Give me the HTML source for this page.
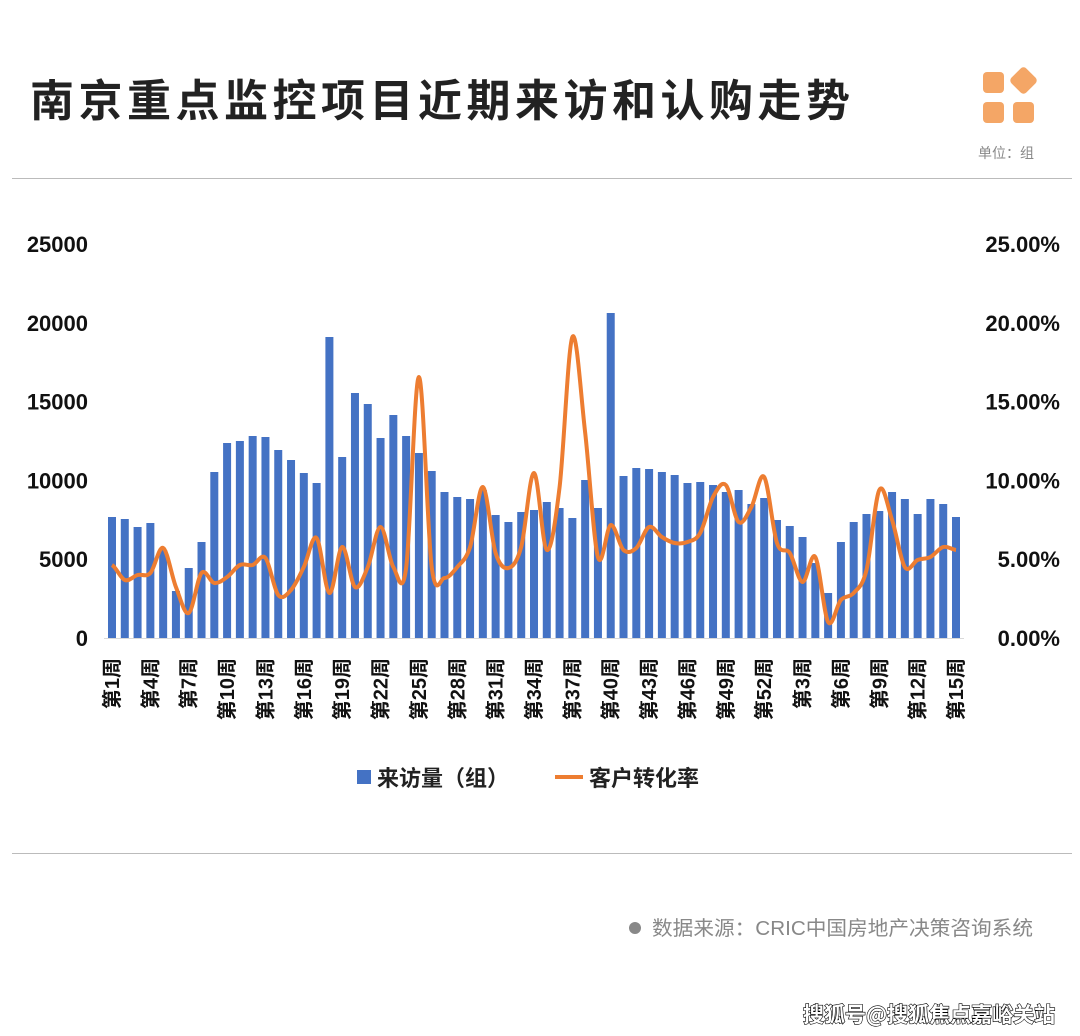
<!DOCTYPE html>
<html><head><meta charset="utf-8">
<style>
html,body{margin:0;padding:0;background:#fff;}
body{width:1080px;height:1036px;overflow:hidden;position:relative;font-family:"Liberation Sans","Noto Sans CJK SC",sans-serif;}
</style></head>
<body>
<svg id="s" width="1080" height="1036" viewBox="0 0 1080 1036" xmlns="http://www.w3.org/2000/svg" style="position:absolute;left:0;top:0">
<text x="30" y="116" font-size="44" font-weight="bold" fill="#222" font-family="Noto Sans CJK SC,sans-serif" letter-spacing="4.5">南京重点监控项目近期来访和认购走势</text>
<rect x="983" y="72" width="21" height="21" rx="4" fill="#F4A666"/>
<rect x="1013" y="70" width="21" height="21" rx="4" fill="#F4A666" transform="rotate(45 1023.5 80.5)"/>
<rect x="983" y="102" width="21" height="21" rx="4" fill="#F4A666"/>
<rect x="1013" y="102" width="21" height="21" rx="4" fill="#F4A666"/>
<text x="978" y="158" font-size="14" fill="#888" font-family="Noto Sans CJK SC,sans-serif">单位：组</text>
<line x1="12" y1="178.5" x2="1072" y2="178.5" stroke="#bbb" stroke-width="1"/>
<line x1="12" y1="853.5" x2="1072" y2="853.5" stroke="#bbb" stroke-width="1"/>
<g id="g"></g>
<rect x="357" y="770" width="14" height="14" fill="#4472C4"/>
<text x="377" y="786" font-size="22" font-weight="bold" fill="#222" font-family="Noto Sans CJK SC,sans-serif">来访量（组）</text>
<line x1="555" y1="777" x2="583" y2="777" stroke="#ED7D31" stroke-width="4"/>
<text x="589" y="786" font-size="22" font-weight="bold" fill="#222" font-family="Noto Sans CJK SC,sans-serif">客户转化率</text>
<circle cx="635" cy="928" r="6" fill="#888"/>
<text x="652" y="935" font-size="20" fill="#888" font-family="Liberation Sans,Noto Sans CJK SC,sans-serif" textLength="381" lengthAdjust="spacingAndGlyphs">数据来源：CRIC中国房地产决策咨询系统</text>
<text x="803" y="1022" font-size="21" font-weight="bold" fill="#fff" stroke="#000" stroke-width="1.2" paint-order="stroke" font-family="Noto Sans CJK SC,sans-serif">搜狐号@搜狐焦点嘉峪关站</text>
</svg>
<script>
var bars=[517,519,527,523,550,591,568,542,472,443,441,436,437,450,460,473,483,337,457,393,404,438,415,436,453,471,492,497,499,490,515,522,512,510,502,508,518,480,508,313,476,468,469,472,475,483,482,485,492,490,504,498,520,526,537,563,593,542,522,514,511,492,499,514,499,504,517];
var line=[565,580,575,573,548,587,613,573,583,577,565,565,558,595,590,567,538,593,547,587,567,527,567,568,377,567,578,567,547,487,553,568,547,473,550,487,337,433,557,525,550,548,527,537,543,542,533,497,485,522,507,477,543,553,582,557,622,600,593,570,490,520,567,560,557,547,550];
var g='',x0=112,dx=(956-112)/66,base=638;
for(var i=0;i<6;i++){var y=base-i*78.8;
g+='<text x="88" y="'+(y+8)+'" font-size="22" font-weight="bold" text-anchor="end" fill="#111">'+(i*5000)+'</text>';
g+='<text x="1060" y="'+(y+8)+'" font-size="22" font-weight="bold" text-anchor="end" fill="#111">'+(i*5).toFixed(2)+'%</text>';}
g+='<line x1="104" y1="638.5" x2="964" y2="638.5" stroke="#d9d9d9"/>';
for(i=0;i<67;i++){var x=x0+i*dx;g+='<rect x="'+(x-4)+'" y="'+bars[i]+'" width="8" height="'+(base-bars[i])+'" fill="#4472C4"/>';
if(i%3==0){var wk=i<52?i+1:i-51;g+='<text transform="translate('+(x+7)+',658) rotate(-90)" font-size="20" font-weight="bold" text-anchor="end" fill="#111" font-family="Liberation Sans,Noto Sans CJK SC,sans-serif">第'+wk+'周</text>';}}
var p='M'+x0+','+line[0];
for(i=0;i<66;i++){var a=line[Math.max(i-1,0)],b=line[i],c=line[i+1],d=line[Math.min(i+2,66)];
var xa=x0+i*dx,xb=xa+dx;
p+=' C'+(xa+dx/3).toFixed(1)+','+(b+(c-a)/6).toFixed(1)+' '+(xb-dx/3).toFixed(1)+','+(c-(d-b)/6).toFixed(1)+' '+xb.toFixed(1)+','+c;}
g+='<path d="'+p+'" fill="none" stroke="#ED7D31" stroke-width="4" stroke-linejoin="round"/>';
document.getElementById('g').innerHTML=g;
</script>
</body></html>
